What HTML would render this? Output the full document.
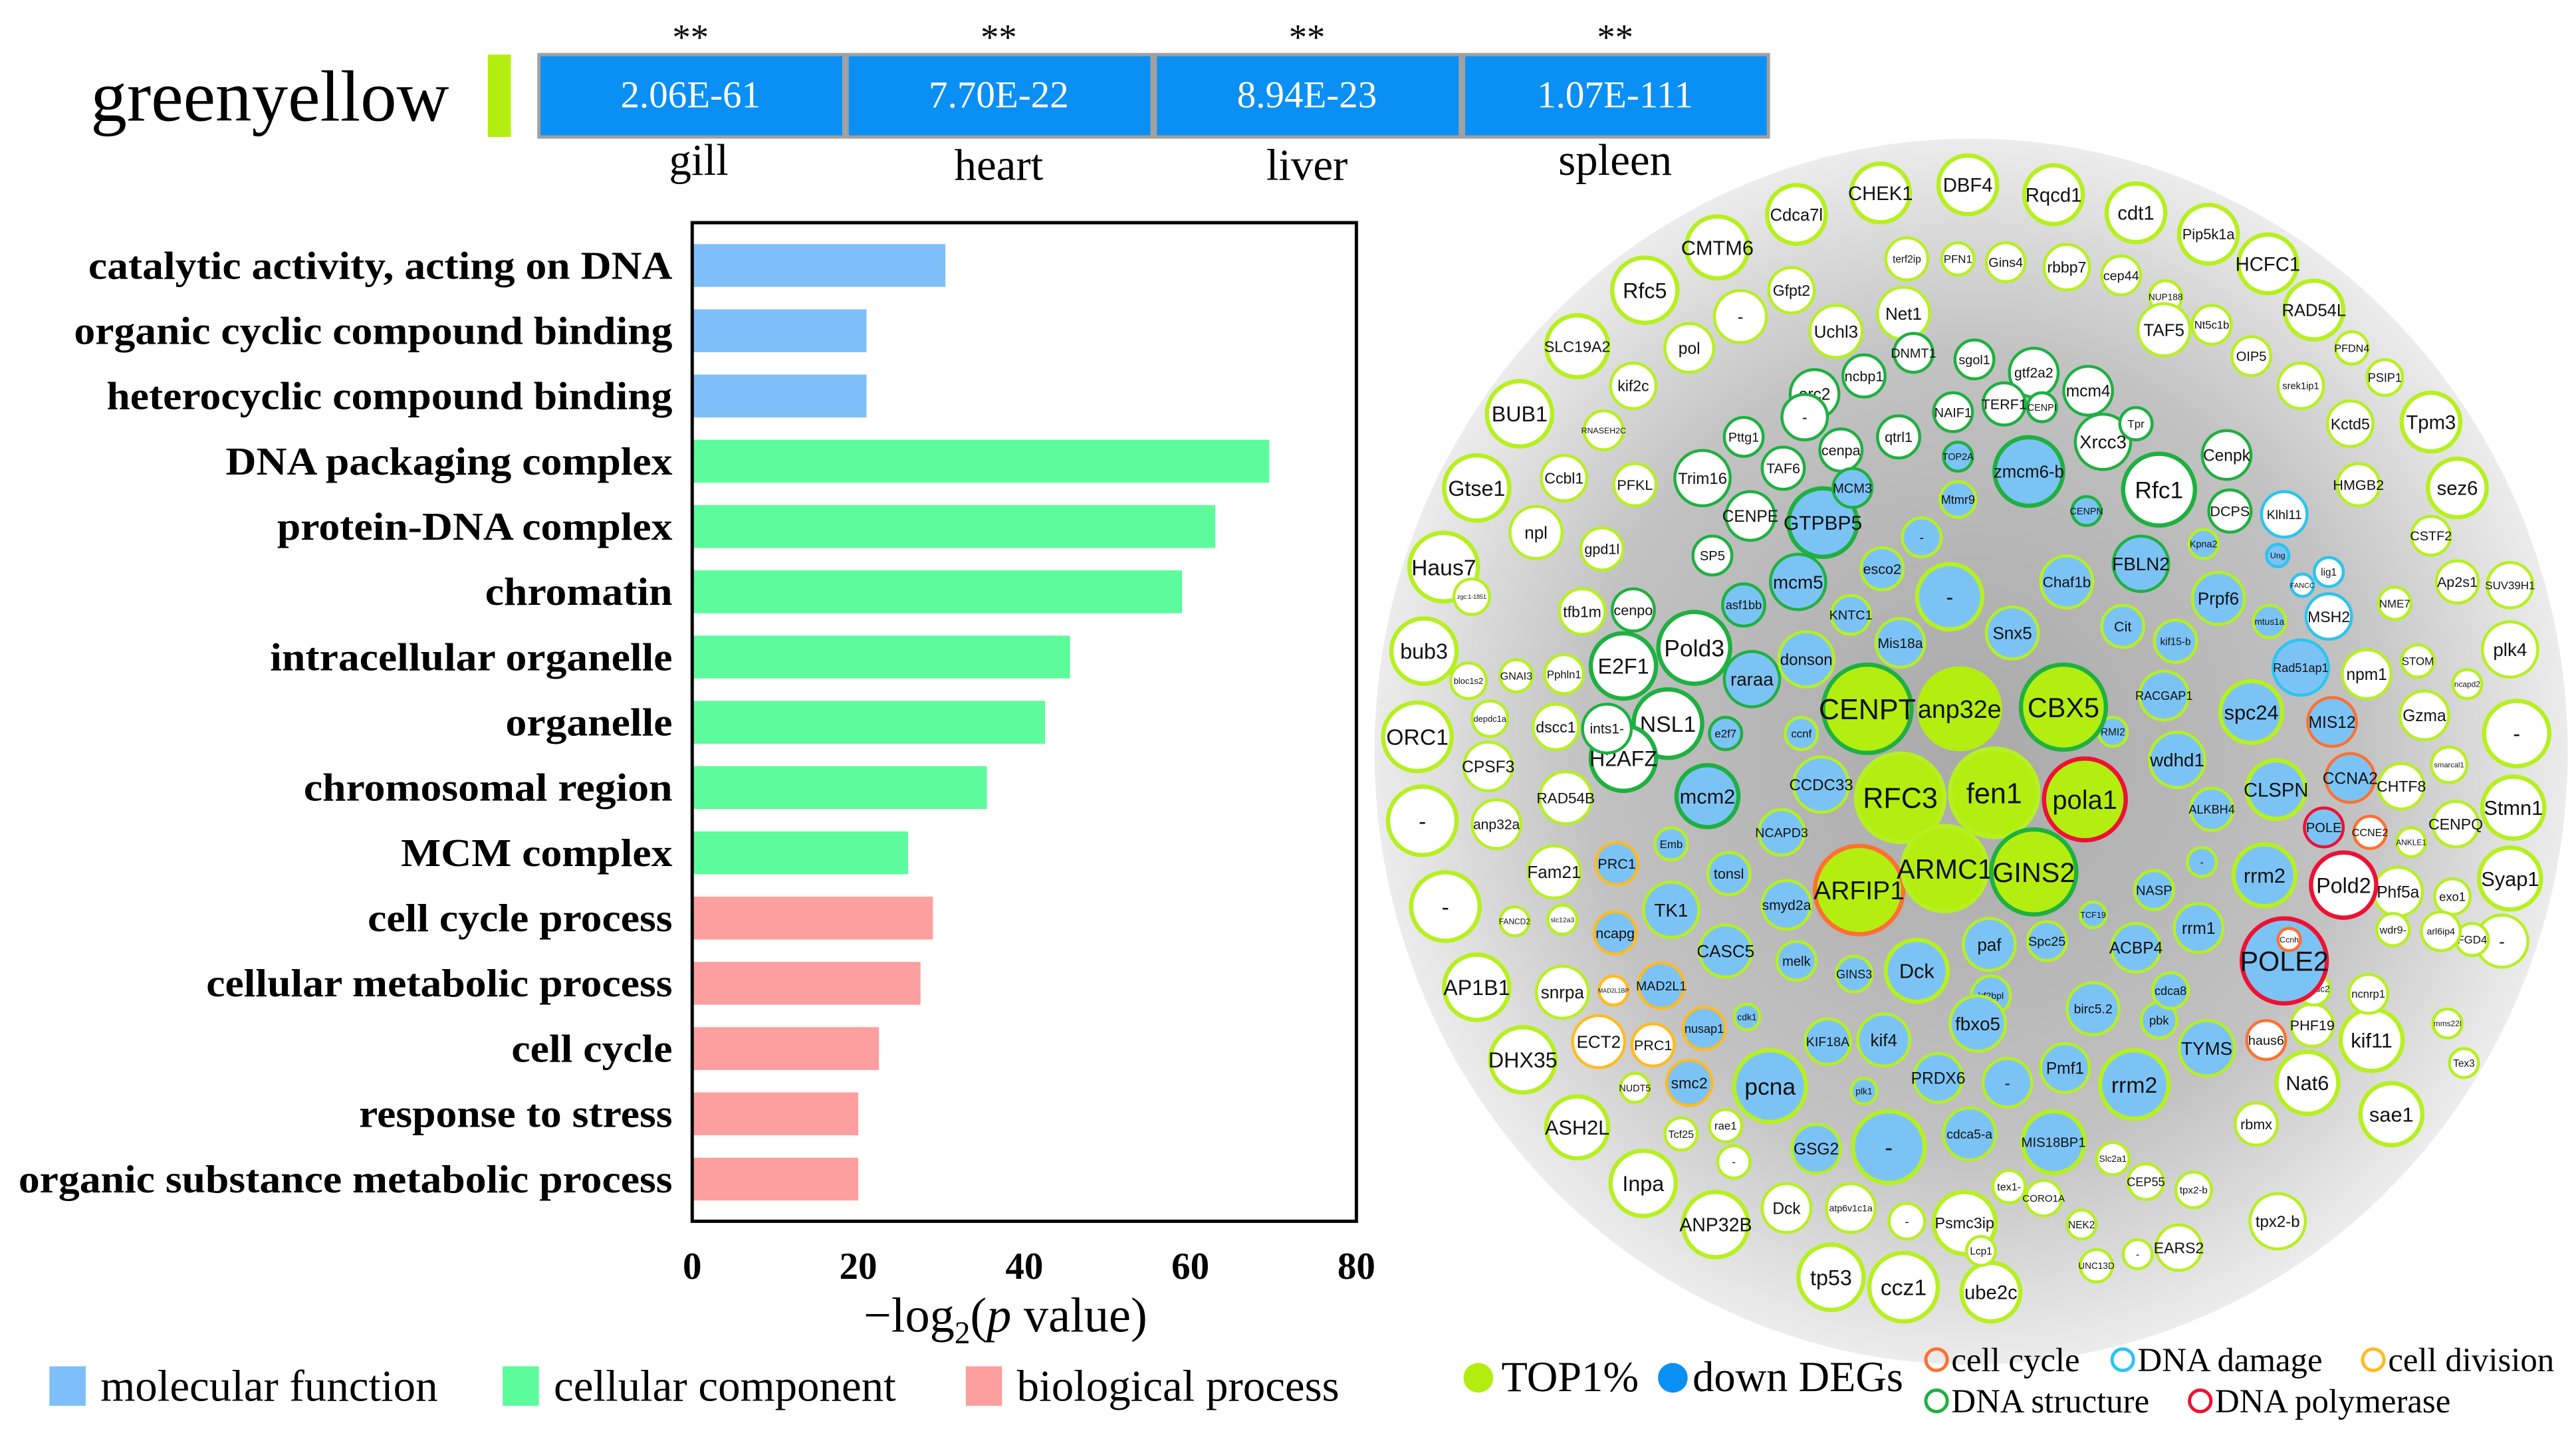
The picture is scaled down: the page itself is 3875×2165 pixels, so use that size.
<!DOCTYPE html>
<html><head><meta charset="utf-8"><style>
html,body{margin:0;padding:0;background:#fff;}
svg{display:block;}
text{font-family:"Liberation Serif",serif;}
.nl{font-family:"Liberation Sans",sans-serif;}
</style></head><body>
<svg id="root" width="3875" height="2165" viewBox="0 0 1563 873" xmlns="http://www.w3.org/2000/svg">
<defs>
<radialGradient id="bg" cx="50%" cy="50%" r="50%">
<stop offset="0" stop-color="#a9a9a9"/><stop offset="0.65" stop-color="#c2c2c2"/><stop offset="1" stop-color="#ececec"/>
</radialGradient>
</defs>
<g>
<text x="55" y="73" font-size="44">greenyellow</text>
<rect x="296" y="33" width="14" height="50" fill="#b3ee10"/>
</g>
<g id="tissues"></g>
<g id="bars"></g>
<g id="net">
<ellipse cx="1196" cy="456" rx="362" ry="372" fill="url(#bg)"/>
</g>
<g id="netlegend"></g>
</svg>
<script>
const NS='http://www.w3.org/2000/svg';
function mk(tag,attrs,parent,txt){const e=document.createElementNS(NS,tag);for(const k in attrs)e.setAttribute(k,attrs[k]);if(txt!==undefined)e.textContent=txt;parent.appendChild(e);return e;}

// tissue p-values
const tissues=['gill','heart','liver','spleen'];
const tissuePvals=['2.06E-61','7.70E-22','8.94E-23','1.07E-111'];
const tissueStars=['**','**','**','**'];
const tg=document.getElementById('tissues');
tissues.forEach((t,i)=>{
  const x=327+i*187;
  const r=mk('rect',{x:x,y:33,width:185,height:50,fill:'#0a8ff5',stroke:'#a0a0a0','stroke-width':2},tg);
  
  
  const v=mk('text',{x:x+92,y:65,'font-size':23,fill:'#fff','text-anchor':'middle'},tg,tissuePvals[i]);
  
  
  const s=mk('text',{x:x+92,y:30,'font-size':22,'text-anchor':'middle'},tg,tissueStars[i]);
  
  
  const l=mk('text',{x:x+[97,92,92,92][i],y:[106,109,109,106][i],'font-size':27,'text-anchor':'middle'},tg,t);
  
  
});

// bar chart data
const goTerms=['catalytic activity, acting on DNA','organic cyclic compound binding','heterocyclic compound binding','DNA packaging complex','protein-DNA complex','chromatin','intracellular organelle','organelle','chromosomal region','MCM complex','cell cycle process','cellular metabolic process','cell cycle','response to stress','organic substance metabolic process'];
const goValues=[30.5,21,21,69.5,63,59,45.5,42.5,35.5,26,29,27.5,22.5,20,20];
const goCategory=['mf','mf','mf','cc','cc','cc','cc','cc','cc','cc','bp','bp','bp','bp','bp'];
const xTicks=[0,20,40,60,80];
const legendLabels=['molecular function','cellular component','biological process'];
const catColor={mf:'#7fbff9',cc:'#5cfc9c',bp:'#fd9f9f'};
const X0=420,X1=823,Y0=135,Y1=741;
const xs=v=>X0+(v-0)/(80-0)*(X1-X0);
const ys=i=>161+i*39.6;
const bg=document.getElementById('bars');
goTerms.forEach((t,i)=>{
  const b=mk('rect',{x:xs(0),y:ys(i)-13,width:xs(goValues[i])-xs(0),height:26,fill:catColor[goCategory[i]]},bg);
  
  
  const l=mk('text',{x:408,y:ys(i)+8,'font-size':24,'font-weight':'bold','text-anchor':'end',transform:'translate(408,0) scale(1.07,1) translate(-408,0)'},bg,t);
  
  
});
const fr=mk('rect',{x:X0,y:Y0,width:X1-X0,height:Y1-Y0,fill:'none',stroke:'#000','stroke-width':2},bg);


xTicks.forEach(v=>{
  const t=mk('text',{x:xs(v),y:776,'font-size':23,'font-weight':'bold','text-anchor':'middle'},bg,String(v));
  
  
});
const xt=mk('text',{x:610,y:808,'font-size':30,'text-anchor':'middle'},bg);


xt.innerHTML='−log<tspan font-size="19" dy="7">2</tspan><tspan dy="-7">(</tspan><tspan font-style="italic">p</tspan> value)';
['mf','cc','bp'].forEach((c,i)=>{
  const x=[30,305,586][i];
  const r=mk('rect',{x:x,y:829,width:22,height:24,fill:catColor[c]},bg);
  
  
  const t=mk('text',{x:x+31,y:850,'font-size':27},bg,legendLabels[i]);
  
  
});

// network nodes
const nodes=[
['Cdca7l',1090,130,19,'w','L'],['CHEK1',1141,117,19,'w','L'],['DBF4',1194,112,19,'w','L'],['Rqcd1',1246,118,19,'w','L'],['cdt1',1296,129,19,'w','L'],['Pip5k1a',1340,142,19,'w','L'],['HCFC1',1376,160,19,'w','L'],['RAD54L',1404,188,19,'w','L'],['CMTM6',1042,150,20,'w','L'],['Rfc5',998,176,21,'w','L'],['SLC19A2',957,210,20,'w','L'],['BUB1',922,251,21,'w','L'],['Gtse1',896,296,21,'w','L'],['Haus7',876,344,22,'w','L'],['bub3',864,395,21,'w','L'],['ORC1',860,447,22,'w','L'],['-',863,498,22,'w','L'],['-',877,550,22,'w','L'],['AP1B1',896,599,21,'w','L'],['DHX35',924,643,21,'w','L'],['ASH2L',957,684,20,'w','L'],['Inpa',997,718,21,'w','L'],['ANP32B',1041,743,21,'w','L'],['tp53',1111,775,21,'w','L'],['ccz1',1155,781,22,'w','L'],['ube2c',1208,784,19,'w','L'],['Tpm3',1475,256,19,'w','L'],['sez6',1491,296,19,'w','L'],['plk4',1523,394,18,'w','L'],['-',1527,445,21,'w','L'],['Stmn1',1525,490,20,'w','L'],['Syap1',1523,533,20,'w','L'],['-',1518,571,17,'w','L'],['sae1',1451,676,20,'w','L'],['Nat6',1400,657,20,'w','L'],['kif11',1439,631,20,'w','L'],['PSIP1',1447,229,12,'w','L'],['PFDN4',1427,211,11,'w','L'],['SUV39H1',1523,355,15,'w','L'],
['Gfpt2',1087,176,15,'w','L'],['Uchl3',1114,201,17,'w','L'],['Net1',1155,190,17,'w','L'],['terf2ip',1157,157,14,'w','L'],['PFN1',1188,157,11,'w','L'],['Gins4',1217,159,13,'w','L'],['rbbp7',1254,162,15,'w','L'],['cep44',1287,167,13,'w','L'],['NUP188',1314,180,11,'w','L'],['Nt5c1b',1342,197,13,'w','L'],['TAF5',1313,200,17,'w','L'],['OIP5',1366,216,13,'w','L'],['srek1ip1',1396,234,15,'w','L'],['Kctd5',1426,257,15,'w','L'],['HMGB2',1431,294,14,'w','L'],['CSTF2',1475,325,13,'w','L'],['Ap2s1',1491,353,14,'w','L'],['Gzma',1471,434,16,'w','L'],['smarcal1',1486,464,12,'w','L'],['CENPQ',1490,500,15,'w','L'],['exo1',1488,544,12,'w','L'],['Phf5a',1455,541,16,'w','L'],['FGD4',1500,570,11,'w','L'],['mms22l',1485,621,10,'w','L'],['Tex3',1495,645,10,'w','L'],['CHTF8',1457,477,15,'w','L'],['NME7',1453,366,11,'w','L'],['STOM',1467,401,11,'w','L'],['ncapd2',1497,415,10,'w','L'],['npm1',1436,409,16,'w','L'],['pol',1025,211,16,'w','L'],['-',1056,192,17,'w','L'],['kif2c',991,234,15,'w','L'],['RNASEH2C',973,261,13,'w','L'],['npl',932,323,17,'w','L'],['Ccbl1',949,290,15,'w','L'],['PFKL',992,294,14,'w','L'],['gpd1l',972,333,14,'w','L'],['zgc:1-1851',893,362,12,'w','L'],['tfb1m',960,371,15,'w','L'],['cenpo',991,370,14,'w','G'],['bloc1s2',891,413,12,'w','L'],['GNAI3',920,410,11,'w','L'],['Pphln1',949,409,13,'w','L'],['dscc1',944,441,15,'w','L'],['CPSF3',903,465,16,'w','L'],['depdc1a',904,436,12,'w','L'],['RAD54B',950,484,17,'w','L'],['anp32a',908,500,16,'w','L'],['Fam21',943,529,17,'w','L'],['FANCD2',919,559,10,'w','L'],['slc12a3',948,558,10,'w','L'],['snrpa',948,602,17,'w','L'],['NUDT5',992,660,10,'w','L'],['Dck',1084,733,16,'w','L'],['atp6v1c1a',1123,733,16,'w','L'],['-',1157,741,12,'w','L'],['Psmc3ip',1192,742,20,'w','L'],['tex1-',1219,720,11,'w','L'],['CORO1A',1240,727,12,'w','L'],['NEK2',1263,743,10,'w','L'],['EARS2',1322,757,15,'w','L'],['tpx2-b',1382,741,18,'w','L'],['tpx2-b',1331,722,12,'w','L'],['rbmx',1369,682,14,'w','L'],['PHF19',1403,622,14,'w','L'],['Tcf25',1020,688,11,'w','L'],['rae1',1047,683,11,'w','L'],['-',1052,705,11,'w','L'],['CEP55',1302,717,12,'w','L'],['Lcp1',1202,759,10,'w','L'],['UNC13D',1272,768,11,'w','L'],['-',1297,761,10,'w','L'],['Slc2a1',1282,703,11,'w','L'],['ncnrp1',1437,603,13,'w','L'],['mesdc2',1404,600,11,'w','L'],['arl6ip4',1481,565,13,'w','L'],['wdr9-',1452,564,11,'w','L'],['ANKLE1',1463,511,10,'w','L'],
['NSL1',1012,439,22,'w','G'],['Pold3',1028,393,23,'w','G'],['E2F1',985,404,21,'w','G'],['H2AFZ',985,460,21,'w','G'],['ints1-',975,442,16,'w','G'],['Trim16',1033,290,18,'w','G'],['Pttg1',1058,265,13,'w','G'],['TAF6',1082,284,14,'w','G'],['CENPE',1062,313,16,'w','G'],['SP5',1039,337,13,'w','G'],['orc2',1101,239,16,'w','G'],['ncbp1',1131,228,14,'w','G'],['DNMT1',1161,214,13,'w','G'],['sgol1',1198,218,13,'w','G'],['gtf2a2',1234,226,16,'w','G'],['mcm4',1267,237,16,'w','G'],['NAIF1',1185,250,13,'w','G'],['TERF1',1216,245,14,'w','G'],['Xrcc3',1276,268,18,'w','G'],['Rfc1',1310,297,23,'w','G'],['cenpa',1117,273,14,'w','G'],['qtrl1',1152,265,14,'w','G'],['-',1095,253,15,'w','G'],['Cenpk',1351,276,16,'w','G'],['DCPS',1353,310,14,'w','G'],['Tpr',1296,257,11,'w','G'],['CENPI',1239,247,10,'w','G'],
['Klhl11',1386,312,15,'w','C'],['lig1',1413,347,10,'w','C'],['MSH2',1413,374,15,'w','C'],['Rad51ap1',1396,405,18,'b','C'],['Ung',1382,337,8,'b','C'],['FANCC',1397,355,8,'w','C'],
['POLE',1410,502,13,'b','R'],['Pold2',1422,537,21,'w','R'],['POLE2',1386,583,27,'b','R'],['MIS12',1415,438,16,'b','O'],['CCNA2',1426,472,16,'b','O'],['CCNE2',1438,505,11,'w','O'],['haus6',1375,631,13,'w','O'],['Ccnh',1389,570,8,'w','O'],
['PRC1',981,524,14,'b','Y'],['ncapg',980,566,14,'b','Y'],['MAD2L1',1008,598,15,'b','Y'],['nusap1',1034,624,14,'b','Y'],['smc2',1025,657,15,'b','Y'],['ECT2',970,632,17,'w','Y'],['PRC1',1003,634,14,'w','Y'],['MAD2L1BP',979,601,10,'w','Y'],
['GTPBP5',1106,317,22,'b','G'],['zmcm6-b',1231,286,22,'b','G'],['MCM3',1124,296,13,'b','G'],['TOP2A',1188,277,10,'b','G'],['Mtmr9',1188,303,12,'b','L'],['FBLN2',1299,342,18,'b','G'],['mcm5',1091,353,18,'b','G'],['asf1bb',1058,367,14,'b','G'],['raraa',1063,412,18,'b','G'],['donson',1096,400,18,'b','L'],['e2f7',1047,445,11,'b','G'],['mcm2',1036,483,20,'b','G'],['CENPN',1266,310,10,'b','G'],
['Chaf1b',1254,353,17,'b','L'],['-',1183,362,21,'b','L'],['Snx5',1221,384,17,'b','L'],['Mis18a',1153,390,16,'b','L'],['esco2',1142,345,14,'b','L'],['-',1166,326,13,'b','L'],['Cit',1288,380,14,'b','L'],['kif15-b',1320,389,14,'b','L'],['Prpf6',1346,363,17,'b','L'],['mtus1a',1377,377,11,'b','L'],['spc24',1366,432,20,'b','L'],['RACGAP1',1313,422,16,'b','L'],['wdhd1',1321,461,18,'b','L'],['CLSPN',1381,479,19,'b','L'],['ALKBH4',1342,491,14,'b','L'],['rrm2',1374,531,20,'b','L'],['rrm1',1334,563,16,'b','L'],['NASP',1307,540,13,'b','L'],['ACBP4',1296,575,16,'b','L'],['TYMS',1339,636,18,'b','L'],['pbk',1310,619,12,'b','L'],['cdca8',1317,601,12,'b','L'],['rrm2',1295,658,22,'b','L'],['birc5.2',1270,612,17,'b','L'],['Pmf1',1253,648,16,'b','L'],['paf',1207,573,17,'b','L'],['Spc25',1242,571,13,'b','L'],['lrf2bpl',1208,604,13,'b','L'],['fbxo5',1200,621,18,'b','L'],['PRDX6',1176,654,16,'b','L'],['-',1218,657,16,'b','L'],['MIS18BP1',1246,693,20,'b','L'],['cdca5-a',1195,688,17,'b','L'],['-',1146,696,23,'b','L'],['GSG2',1102,697,16,'b','L'],['pcna',1074,659,23,'b','L'],['kif4',1143,631,17,'b','L'],['KIF18A',1109,632,15,'b','L'],['Dck',1163,589,20,'b','L'],['GINS3',1125,591,12,'b','L'],['melk',1090,583,13,'b','L'],['smyd2a',1084,549,16,'b','L'],['CASC5',1047,577,17,'b','L'],['TK1',1014,552,18,'b','L'],['tonsl',1049,530,14,'b','L'],['Emb',1014,512,11,'b','L'],['NCAPD3',1081,505,15,'b','L'],['CCDC33',1105,476,18,'b','L'],['ccnf',1093,445,11,'b','L'],['KNTC1',1123,373,13,'b','L'],['Kpna2',1337,330,10,'b','L'],['RMI2',1282,444,10,'b','L'],['TCF19',1270,555,9,'b','L'],['-',1336,523,10,'b','L'],['cdk1',1060,617,9,'b','L'],['plk1',1131,662,9,'b','L'],
['CENPT',1133,430,28,'g','G'],['anp32e',1189,430,27,'g','N'],['CBX5',1252,429,27,'g','G'],['RFC3',1153,484,28,'g','L'],['fen1',1210,481,28,'g','L'],['pola1',1265,485,26,'g','R'],['ARFIP1',1128,540,28,'g','O'],['ARMC1',1180,527,27,'g','L'],['GINS2',1234,529,27,'g','G']
];
const fillC={w:'#ffffff',b:'#7cc3f5',g:'#b3ee10'};
const strokeC={L:'#b6f020',G:'#1eb040',R:'#ee1133',O:'#ff7030',C:'#2bc4f0',Y:'#ffbb22',N:'none'};
const ng=document.getElementById('net');
nodes.forEach(n=>{
  const [lab,x,y,r,f,s]=n;
  const g=mk('g',{},ng);
  
  
  mk('circle',{cx:x,cy:y,r:r-1.2,fill:fillC[f],stroke:strokeC[s],'stroke-width':s==='N'?0:(r>18?2.6:1.8)},g);
  const fs=Math.max(3,Math.min(r*0.62,(2*r-4)/(lab.length*0.55)));
  mk('text',{x:x,y:y+fs*0.36,'font-size':fs.toFixed(1),'text-anchor':'middle',class:'nl',fill:'#111'},g,lab);
});

// network legend
const nlg=document.getElementById('netlegend');
const e1=mk('circle',{cx:897,cy:836,r:9,fill:'#b3ee10'},nlg);


const t1=mk('text',{x:911,y:844,'font-size':26},nlg,'TOP1%');


const e2=mk('circle',{cx:1015,cy:836,r:9,fill:'#0a8ff5'},nlg);


const t2=mk('text',{x:1027,y:844,'font-size':26},nlg,'down DEGs');


const ringLabels=['cell cycle','DNA damage','cell division','DNA structure','DNA polymerase'];
const ringColors=['#ff7030','#2bc4f0','#ffbb22','#1eb040','#ee1133'];
const ringPos=[[1175,825],[1288,825],[1440,825],[1175,850],[1335,850]];
ringLabels.forEach((l,i)=>{
  const [x,y]=ringPos[i];
  const c=mk('circle',{cx:x,cy:y,r:6.5,fill:'none',stroke:ringColors[i],'stroke-width':2},nlg);
  
  
  const t=mk('text',{x:x+9,y:y+7,'font-size':20.5},nlg,l);
  
  
});
</script>
</body></html>
